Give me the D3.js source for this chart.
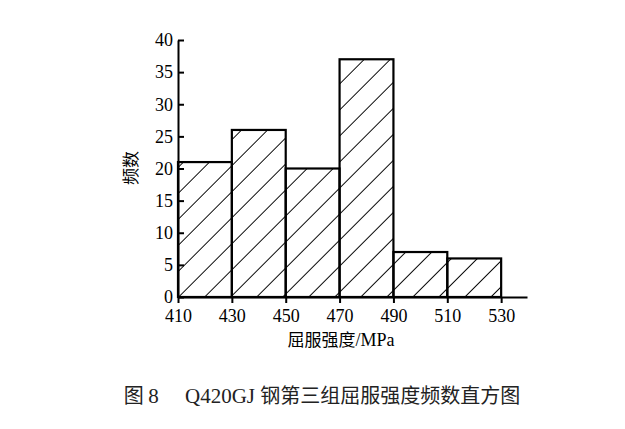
<!DOCTYPE html>
<html>
<head>
<meta charset="utf-8">
<script src="https://cdn.jsdelivr.net/npm/d3@7"></script>
<style>
  body { margin: 0; background: #fff; }
</style>
</head>
<body>
<div id="Chart"></div>
<script>
// bin edges and counts
var binStart = [410, 430, 450, 470, 490, 510];
var binEnd = [430, 450, 470, 490, 510, 530];
var counts = [21, 26, 20, 37, 7, 6];
var xTicks = [410, 430, 450, 470, 490, 510, 530];
var yTicks = [0, 5, 10, 15, 20, 25, 30, 35, 40];

var svgWidth = 625;
var svgHeight = 429;

var svg = d3.select("#Chart")
  .append("svg")
  .attr("width", svgWidth)
  .attr("height", svgHeight);

// hatch fill
var defs = svg.append("defs");
defs.append("pattern")
  .attr("id", "hatch")
  .attr("patternUnits", "userSpaceOnUse")
  .attr("width", 18.4)
  .attr("height", 18.4)
  .attr("patternTransform", "translate(178,297) rotate(45)")
  .append("line")
  .attr("x1", 0).attr("y1", -2)
  .attr("x2", 0).attr("y2", 21)
  .attr("stroke", "#000")
  .attr("stroke-width", 1.9);

var x = d3.scaleLinear()
  .domain([410, 539.6])
  .range([178, 527]);

var y = d3.scaleLinear()
  .domain([0, 40])
  .range([297, 40]);

var serif = "'Liberation Serif', 'Times New Roman', serif";
var cjk = "'Noto Sans CJK SC', sans-serif";

svg.selectAll("rect.bar")
  .data(counts)
  .enter()
  .append("rect")
  .attr("class", "bar")
  .attr("x", (d, i) => x(binStart[i]))
  .attr("y", d => y(d))
  .attr("width", (d, i) => x(binEnd[i]) - x(binStart[i]))
  .attr("height", d => y(0) - y(d))
  .attr("fill", "url(#hatch)")
  .attr("stroke", "#000")
  .attr("stroke-width", 2.2);

var bottomAxis = d3.axisBottom(x)
  .tickValues(xTicks)
  .tickFormat(d3.format("d"))
  .tickSize(6)
  .tickSizeOuter(0);

var leftAxis = d3.axisLeft(y)
  .tickValues(yTicks)
  .tickFormat(d3.format("d"))
  .tickSize(-6)
  .tickSizeOuter(0);

var gx = svg.append("g")
  .attr("transform", "translate(0,297)")
  .call(bottomAxis);

var gy = svg.append("g")
  .attr("transform", "translate(178,0)")
  .call(leftAxis);

[gx, gy].forEach(function (g) {
  g.attr("font-family", null).attr("font-size", null);
  g.select(".domain").attr("stroke", "#000").attr("stroke-width", 2);
  g.selectAll(".tick line").attr("stroke", "#000").attr("stroke-width", 2);
  g.selectAll(".tick text")
    .attr("fill", "#000")
    .style("font-family", serif)
    .style("font-size", "18px");
});
gx.selectAll(".tick text").attr("dy", "0.9em");
gy.selectAll(".tick text").attr("x", -5);

// axis titles
var xt = svg.append("text")
  .attr("x", 341)
  .attr("y", 346)
  .attr("text-anchor", "middle")
  .style("font-size", "17px")
  .style("font-family", cjk);
xt.append("tspan").text("屈服强度");
xt.append("tspan").style("font-family", serif).style("font-size", "18px").text("/MPa");

svg.append("text")
  .attr("transform", "translate(137,168) rotate(-90)")
  .attr("text-anchor", "middle")
  .style("font-size", "17px")
  .style("font-family", cjk)
  .text("频数");

// caption
var cap = svg.append("text")
  .attr("x", 322)
  .attr("y", 403)
  .attr("text-anchor", "middle")
  .style("font-size", "20px")
  .style("font-family", cjk)
  .attr("fill", "#222");
cap.append("tspan").text("图 ");
cap.append("tspan").style("font-family", serif).style("font-size", "21px").text("8　 Q420GJ ");
cap.append("tspan").text("钢第三组屈服强度频数直方图");
</script>
</body>
</html>
